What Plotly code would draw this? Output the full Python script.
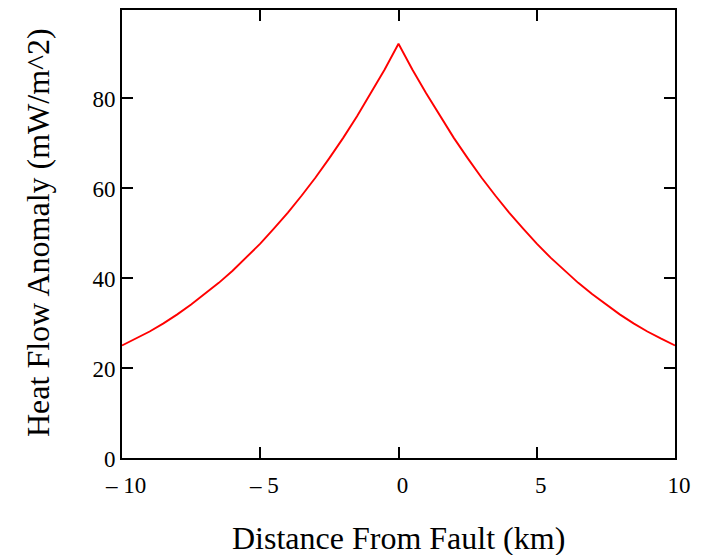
import plotly.graph_objects as go

# Distance from the fault (km), right half; profile is symmetric about the fault
distance_half = [0.0, 0.5, 1.0, 1.5, 2.0, 2.5, 3.0, 3.5, 4.0, 4.5, 5.0,
                 5.5, 6.0, 6.5, 7.0, 7.5, 8.0, 8.5, 9.0, 9.5, 10.0]
# Heat flow anomaly (mW/m^2) at those distances
heat_flow_half = [92.0, 86.3, 81.0, 75.9, 71.1, 66.6, 62.3, 58.3, 54.5, 51.0, 47.6,
                  44.5, 41.6, 38.9, 36.4, 34.1, 31.9, 29.9, 28.1, 26.5, 25.0]

x_tick_vals = [-10, -5, 0, 5, 10]
x_tick_text = ["\u2013 10", "\u2013 5", "0", "5", "10"]
y_tick_vals = [0, 20, 40, 60, 80]
y_tick_text = ["0", "20", "40", "60", "80"]

x_title = "Distance From Fault (km)"
y_title = "Heat Flow Anomaly (mW/m^2)"

# Mirror the half profile to both sides of the fault
distance = [-d for d in reversed(distance_half[1:])] + distance_half
heat_flow = list(reversed(heat_flow_half[1:])) + heat_flow_half

serif = "Liberation Serif, Times New Roman, serif"

fig = go.Figure(
    go.Scatter(
        x=distance,
        y=heat_flow,
        mode="lines",
        line=dict(color="#ff0000", width=1.9),
        hoverinfo="x+y",
    )
)

axis_common = dict(
    showgrid=False,
    zeroline=False,
    showline=True,
    linecolor="black",
    linewidth=2,
    mirror="ticks",
    ticks="inside",
    ticklen=11,
    tickwidth=1.6,
    tickcolor="black",
    automargin=False,
    tickfont=dict(family=serif, size=23, color="black"),
)

fig.update_xaxes(
    range=[-10, 10],
    tickmode="array",
    tickvals=x_tick_vals,
    ticktext=x_tick_text,
    ticklabelshift=4,
    ticklabelstandoff=5,
    **axis_common,
)
fig.update_yaxes(
    range=[0, 99.5],
    tickmode="array",
    tickvals=y_tick_vals,
    ticktext=y_tick_text,
    ticklabelshift=1,
    **axis_common,
)

# Axis titles placed as annotations relative to the plot area
fig.add_annotation(
    text=x_title, xref="paper", yref="paper", x=0.5, y=0,
    xanchor="center", yanchor="middle", yshift=-80, showarrow=False,
    font=dict(family=serif, size=32, color="black"),
)
fig.add_annotation(
    text=y_title, xref="paper", yref="paper", x=0, y=0.5, textangle=-90,
    xanchor="center", yanchor="middle", xshift=-84, yshift=1, showarrow=False,
    font=dict(family=serif, size=32, color="black"),
)

fig.update_layout(
    width=704,
    height=555,
    margin=dict(l=122, r=29, t=10, b=97),
    paper_bgcolor="white",
    plot_bgcolor="white",
    showlegend=False,
)

fig.write_html("out.html")
